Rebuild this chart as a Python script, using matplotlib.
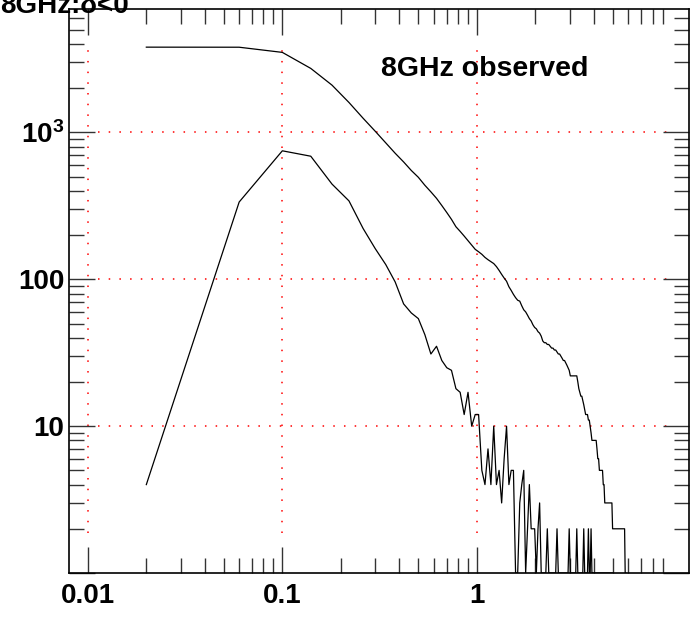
import numpy as np
import matplotlib
matplotlib.use('Agg')
import matplotlib.pyplot as plt
from matplotlib.ticker import FixedLocator, FixedFormatter

plt.rcParams['font.family'] = ['Liberation Sans', 'DejaVu Sans']
plt.rcParams['font.weight'] = 'bold'
plt.rcParams['mathtext.fontset'] = 'custom'
plt.rcParams['mathtext.default'] = 'bf'
plt.rcParams['mathtext.bf'] = 'Liberation Sans:bold'
plt.rcParams['mathtext.rm'] = 'Liberation Sans:bold'

# ---------------- data ----------------
bin_first = 0.02
bin_width = 0.04

# cumulative counts (upper curve)
upper_counts = [
    3810, 3806, 3510, 2730, 2100, 1600, 1250, 1020, 850, 722,
    630, 551, 495, 437, 394, 356, 318, 285, 256, 228,
    212, 197, 183, 171, 160, 154, 148, 141, 136, 132,
    128, 122, 115, 108, 102, 97, 89, 84, 79, 75,
    72, 71, 66, 62, 60, 57, 54, 52, 49, 47,
    46, 44, 43, 41, 38, 37, 37, 36, 36, 35,
    34, 34, 33, 33, 32, 31, 31, 30, 29, 28,
    28, 27, 26, 25, 24, 22, 22, 22, 22, 22,
    22, 22, 20, 18, 17, 16, 16, 15, 14, 13,
    12, 12, 12, 11, 11, 10, 9, 8, 8, 8,
    8, 8, 8, 7, 6, 6, 5, 5, 5, 5,
    5, 4, 4, 3, 3, 3, 3, 3, 3, 3,
    3, 3, 3, 3, 2, 2, 2, 2, 2, 2,
    2, 2, 2, 2, 2, 2, 2, 2, 2, 2,
    2, 2, 2, 2, 1, 1,
]

# differential counts (lower curve)
lower_counts = [
    4, 336, 750, 689, 445, 342, 222, 162, 126, 96,
    68, 59, 54, 42, 31, 35, 28, 25, 24, 18,
    17, 12, 17, 10, 12, 12, 5, 4, 7, 4,
    10, 4, 5, 3, 6, 10, 4, 5, 5, 1,
    1, 3, 4, 5, 1, 2, 4, 2, 2, 2,
    1, 2, 3, 1, 1, 1, 1, 2, 1, 1,
    1, 1, 1, 1, 2, 1, 1, 1, 1, 1,
    1, 1, 1, 1, 2, 1, 1, 1, 1, 1,
    1, 2, 1, 1, 1, 1, 1, 1, 2, 1,
    1, 1, 1, 2, 1, 1, 2, 1, 1, 1,
    1, 1, 1, 1, 1, 1, 1, 1, 1, 1,
    1, 1, 1, 1, 1, 1, 1, 1, 1, 1,
    1, 1, 1, 1, 1,
]

x_upper = bin_first + bin_width * np.arange(len(upper_counts))
x_lower = bin_first + bin_width * np.arange(len(lower_counts))

x_major = [0.01, 0.1, 1]
x_major_labels = ['0.01', '0.1', '1']
x_minor = [0.02, 0.03, 0.04, 0.05, 0.06, 0.07, 0.08, 0.09,
           0.2, 0.3, 0.4, 0.5, 0.6, 0.7, 0.8, 0.9,
           2, 3, 4, 5, 6, 7, 8, 9]
y_major = [1, 10, 100, 1000]
y_major_labels = ['', '10', '100', r'$10^3$']
y_minor = [2, 3, 4, 5, 6, 7, 8, 9,
           20, 30, 40, 50, 60, 70, 80, 90,
           200, 300, 400, 500, 600, 700, 800, 900,
           2000, 3000, 4000, 5000, 6000]

grid_x = [0.01, 0.1, 1]
grid_y = [10, 100, 1000]
grid_x_span = (0.0113, 9.6)
grid_y_span = (1.87, 3760)

# ---------------- figure ----------------
W, H = 691, 623
fig = plt.figure(figsize=(W / 100, H / 100), dpi=100)
ax = fig.add_axes([69 / W, (H - 573) / H, 620 / W, 564 / H])
ax.set_xscale('log')
ax.set_yscale('log')

grid_style = dict(color='red', lw=1.1, ls=(0, (1, 6)), zorder=1)
for gx in grid_x:
    ax.plot([gx, gx], grid_y_span, **grid_style)
for gy in grid_y:
    ax.plot(grid_x_span, [gy, gy], **grid_style)

ax.plot(x_upper, upper_counts, color='black', lw=0.9, zorder=3)
ax.plot(x_lower, lower_counts, color='black', lw=0.9, zorder=3)

ax.set_xlim(0.00801, 12.3)
ax.set_ylim(1, 6930)

ax.xaxis.set_major_locator(FixedLocator(x_major))
ax.xaxis.set_major_formatter(FixedFormatter(x_major_labels))
ax.xaxis.set_minor_locator(FixedLocator(x_minor))
ax.xaxis.set_minor_formatter(FixedFormatter([''] * len(x_minor)))
ax.yaxis.set_major_locator(FixedLocator(y_major))
ax.yaxis.set_major_formatter(FixedFormatter(y_major_labels))
ax.yaxis.set_minor_locator(FixedLocator(y_minor))
ax.yaxis.set_minor_formatter(FixedFormatter([''] * len(y_minor)))

ax.tick_params(which='both', direction='in', top=True, right=True,
               width=1.0, color='#333333', labelsize=20)
ax.tick_params(which='major', length=18.5)
ax.tick_params(which='minor', length=10.8)
ax.tick_params(axis='x', which='major', pad=7)
ax.tick_params(axis='y', which='major', pad=3.5)
for sp in ax.spines.values():
    sp.set_linewidth(1.2)

fig.text(380.7 / W, 1 - 75.5 / H, '8GHz observed', fontsize=20.5,
         fontweight='bold', ha='left', va='baseline')
fig.text(0 / W, 1 - 13 / H, '8GHz:δ<0', fontsize=20,
         fontweight='bold', ha='left', va='baseline')

fig.savefig('out.png', dpi=100)
